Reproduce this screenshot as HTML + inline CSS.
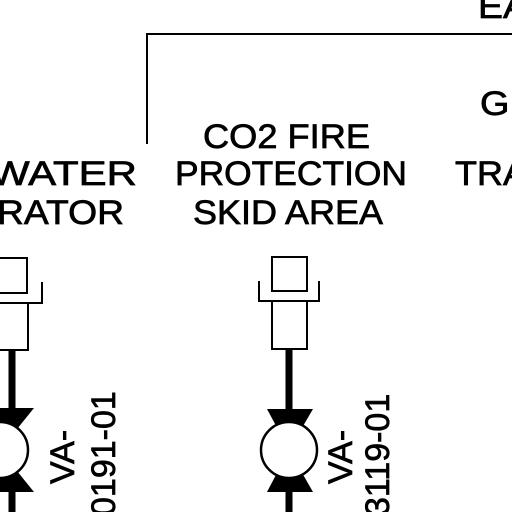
<!DOCTYPE html>
<html><head><meta charset="utf-8"><style>
html,body{margin:0;padding:0;background:#fff;}
svg{display:block;}
text{font-family:"Liberation Sans",Arial,sans-serif;fill:#000;font-size:34px;stroke:#000;stroke-width:0.7px;}
</style></head><body>
<svg width="512" height="512" viewBox="0 0 512 512">
<g stroke="#000" stroke-width="2" fill="none">
<polyline points="147,144 147,34 512,34"/>
</g>
<text x="478" y="18" textLength="50" lengthAdjust="spacingAndGlyphs">EA</text>
<text x="480" y="115" textLength="40" lengthAdjust="spacingAndGlyphs">GI</text>
<text x="455" y="185" textLength="72" lengthAdjust="spacingAndGlyphs">TRA</text>
<text x="-10" y="185" textLength="147" lengthAdjust="spacingAndGlyphs">WATER</text>
<text x="-3" y="224" textLength="127" lengthAdjust="spacingAndGlyphs">RATOR</text>
<text x="203" y="148" textLength="167" lengthAdjust="spacingAndGlyphs">CO2 FIRE</text>
<text x="175" y="185" textLength="232" lengthAdjust="spacingAndGlyphs">PROTECTION</text>
<text x="193" y="224" textLength="190" lengthAdjust="spacingAndGlyphs">SKID AREA</text>

<g stroke="#000" fill="none">
<rect x="-10" y="258" width="37" height="35" stroke-width="2"/>
<polyline points="42,282 42,303 -5,303" stroke-width="2"/>
<rect x="-10" y="303" width="38" height="47" stroke-width="2"/>
<line x1="12" y1="350" x2="12" y2="512" stroke-width="7"/>
<polygon points="-20,408 34,408 0,450" fill="#000" stroke="none"/>
<polygon points="-20,492 34,492 0,450" fill="#000" stroke="none"/>
<circle cx="0" cy="450" r="28" fill="#fff" stroke-width="2.5"/>
</g>
<text transform="translate(74,484) rotate(-90)">VA-</text>
<text transform="translate(115,516) rotate(-90)">0191-01</text>

<g stroke="#000" fill="none">
<rect x="272" y="257" width="35" height="34" stroke-width="2"/>
<polyline points="259,281 259,301 319,301 319,281" stroke-width="2"/>
<rect x="272" y="301" width="35" height="48" stroke-width="2"/>
<line x1="289" y1="349" x2="289" y2="512" stroke-width="7"/>
<polygon points="267,409 313,409 289,450" fill="#000" stroke="none"/>
<polygon points="267,492 313,492 289,450" fill="#000" stroke="none"/>
<circle cx="289" cy="450" r="28" fill="#fff" stroke-width="2.5"/>
</g>
<text transform="translate(352,484) rotate(-90)">VA-</text>
<text transform="translate(389,516) rotate(-90)">3119-01</text>
</svg>
</body></html>
